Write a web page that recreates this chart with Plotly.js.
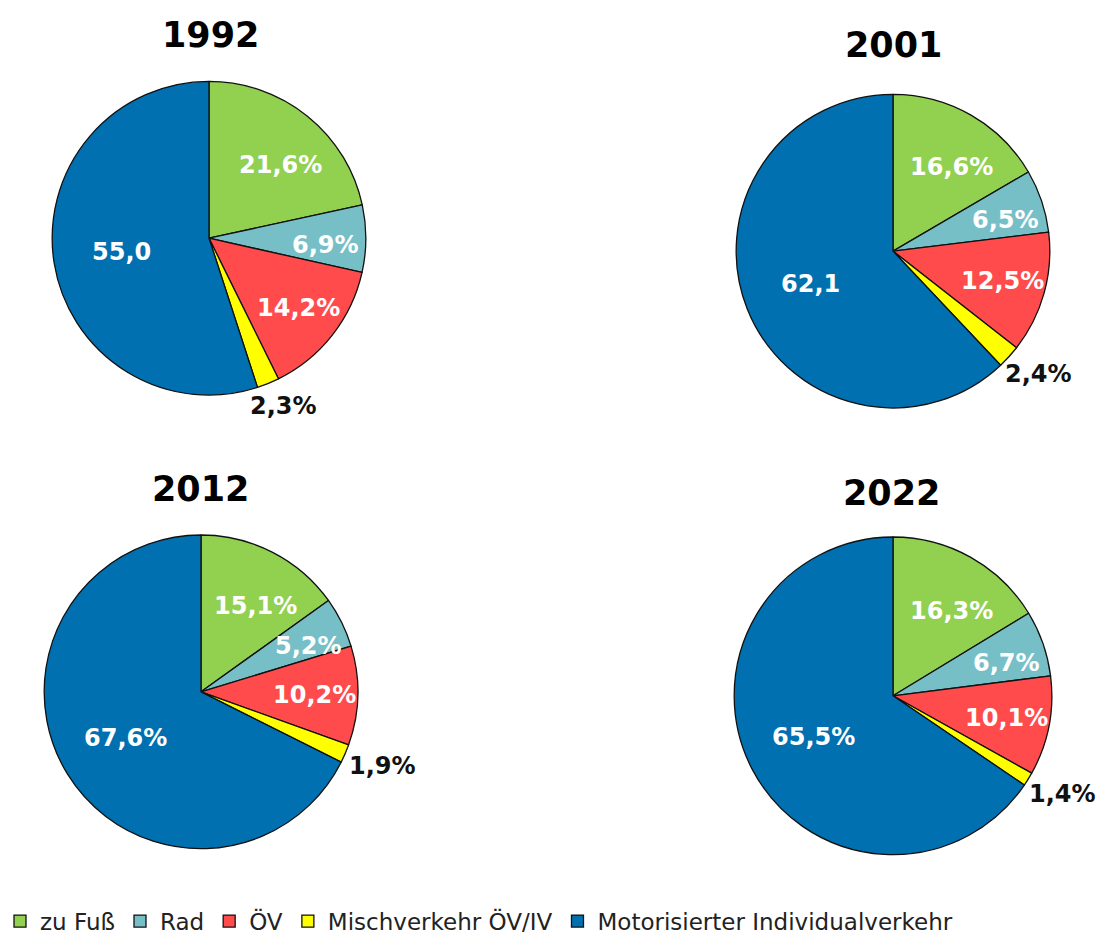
<!DOCTYPE html>
<html><head><meta charset="utf-8">
<script src="https://cdn.plot.ly/plotly-3.0.1.min.js"></script>
<style>body{margin:0;background:#fff}#c{width:1097px;height:943px}</style>
</head><body><div id="c"></div>
<script>
const categories = ["zu Fuß","Rad","ÖV","Mischverkehr ÖV/IV","Motorisierter Individualverkehr"];
const colors = ["#92D050","#77BFC7","#FF4B4B","#FFFF00","#0070B0"];
const years = ["1992","2001","2012","2022"];
const values1992 = [21.6, 6.9, 14.2, 2.3, 55.0];
const values2001 = [16.6, 6.5, 12.5, 2.4, 62.1];
const values2012 = [15.1, 5.2, 10.2, 1.9, 67.6];
const values2022 = [16.3, 6.7, 10.1, 1.4, 65.5];
const text1992 = ["21,6%","6,9%","14,2%","2,3%","55,0"];
const text2001 = ["16,6%","6,5%","12,5%","2,4%","62,1"];
const text2012 = ["15,1%","5,2%","10,2%","1,9%","67,6%"];
const text2022 = ["16,3%","6,7%","10,1%","1,4%","65,5%"];

const W = 1097, H = 943;
function dom(cx, cy, r){
  return {x:[(cx-r)/W,(cx+r)/W], y:[1-(cy+r)/H, 1-(cy-r)/H]};
}
const geo = [
  {cx:209, cy:240, r:158},
  {cx:893, cy:253, r:158},
  {cx:201, cy:697, r:158},
  {cx:893, cy:701, r:160}
];
const F = 'DejaVu Sans, Arial, sans-serif';
const vals = [values1992, values2001, values2012, values2022];
const texts = [text1992, text2001, text2012, text2022];
const data = vals.map((v,i)=>({
  type:'pie', labels:categories, values:v, text:texts[i],
  textinfo:'none', hoverinfo:'label+value',
  sort:false, direction:'clockwise', rotation:0,
  domain:dom(geo[i].cx, geo[i].cy, geo[i].r),
  marker:{colors:colors, line:{color:'#111', width:1.3}},
  showlegend: i===0
}));

// slice labels placed near each slice's mid-angle, computed from the values
const radialFrac = [0.65, 0.74, 0.72, 1.04, 0.56];
const angleShift = [5, 3, 0, 0, 0];
const outsideBox = {w:66, h:28};
const annotations = [];
vals.forEach((v,i)=>{
  const total = v.reduce((a,b)=>a+b,0);
  let cum = 0;
  v.forEach((val,k)=>{
    const mid = (cum + val/2)/total*2*Math.PI + angleShift[k]*Math.PI/180;
    cum += val;
    const d = radialFrac[k]*geo[i].r;
    let px = geo[i].cx + d*Math.sin(mid);
    let py = geo[i].cy - d*Math.cos(mid);
    if (k===3) { // outside label: push box centre away from the rim
      px += outsideBox.w/2*Math.sin(mid);
      py += outsideBox.h/2*(-Math.cos(mid)) + 4;
    }
    annotations.push({
      text:'<b>'+texts[i][k]+'</b>', x:px/W, y:1-py/H, xref:'paper', yref:'paper',
      xanchor:'center', yanchor:'middle', showarrow:false,
      font:{family:F, size:24, color: k===3 ? '#111' : '#fff'}
    });
  });
});
const titlePos = [[210,35],[893,45],[200,493],[891,497]];
years.forEach((y,i)=>annotations.push({
  text:'<b>'+y+'</b>', x:titlePos[i][0]/W, y:1-titlePos[i][1]/H, xref:'paper', yref:'paper',
  xanchor:'center', yanchor:'middle', showarrow:false,
  font:{family:F, size:35, color:'#000'}
}));
const layout = {
  width:W, height:H, margin:{l:0,r:0,t:0,b:0},
  paper_bgcolor:'#fff',
  annotations:annotations,
  legend:{orientation:'h', x:0, xanchor:'left', y:1-928/H, yanchor:'middle',
    font:{family:F, size:23, color:'#222'}, traceorder:'normal',
    itemwidth:30, tracegroupgap:0}
};
Plotly.newPlot('c', data, layout, {displayModeBar:false});
</script></body></html>
